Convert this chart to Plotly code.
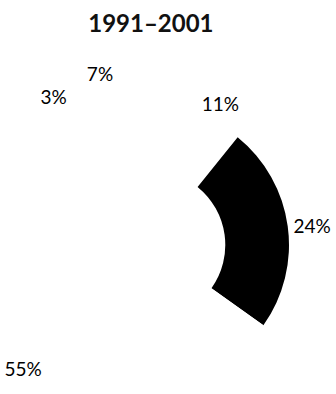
import plotly.graph_objects as go

# Share of each group, 1991–2001, in clockwise order from the top-left
labels = ["A", "B", "C", "D", "E"]
values = [3, 7, 11, 24, 55]
colors = ["#ffffff", "#ffffff", "#ffffff", "#000000", "#ffffff"]
title_text = "1991–2001"

# Percent labels; the extra blank lines nudge the small top-left and the
# large bottom-left labels a little further from the ring.
text_templates = [
    "%{percent}<br> ",
    "%{percent}",
    "%{percent}",
    "%{percent}",
    " <br>%{percent}",
]

fig = go.Figure(
    go.Pie(
        labels=labels,
        values=values,
        sort=False,
        direction="clockwise",
        rotation=-36.6,
        hole=0.54,
        marker=dict(colors=colors, line=dict(color="#ffffff", width=0)),
        texttemplate=text_templates,
        textposition="outside",
        outsidetextfont=dict(family="Lato", size=19, weight=400, color="#000000"),
        showlegend=False,
    )
)

fig.update_layout(
    width=336,
    height=394,
    margin=dict(l=4, r=46, t=104, b=4),
    paper_bgcolor="#ffffff",
    plot_bgcolor="#ffffff",
    title=dict(
        text="<b>" + title_text + "</b>",
        x=0.449,
        xref="container",
        xanchor="center",
        y=1 - 24 / 394,
        yref="container",
        yanchor="middle",
        font=dict(family="Lato", size=24, color="#111111"),
    ),
)

# Labels stay free-floating: hide the connector lines plotly adds when it
# shifts a label to avoid an overlap.
hide_lines = "document.querySelectorAll('.textline').forEach(function(e){e.style.display='none';});"

fig.write_html("out.html", post_script=hide_lines)
